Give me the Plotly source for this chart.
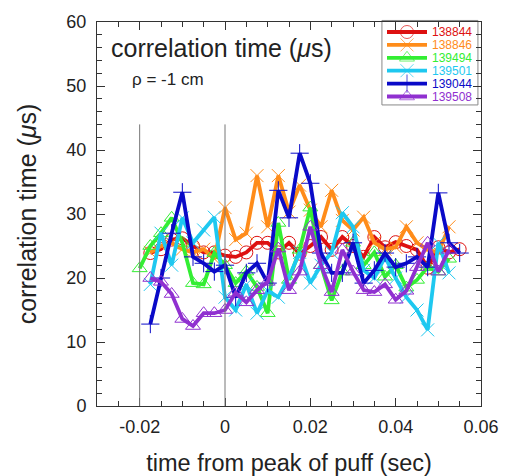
import plotly.graph_objects as go

# shared time grid (sec)
t = [-0.0200, -0.0175, -0.0150, -0.0125, -0.0100, -0.0075, -0.0050, -0.0025,
     0.0000, 0.0025, 0.0050, 0.0075, 0.0100, 0.0125, 0.0150, 0.0175,
     0.0200, 0.0225, 0.0250, 0.0275, 0.0300, 0.0325, 0.0350, 0.0375,
     0.0400, 0.0425, 0.0450, 0.0475, 0.0500, 0.0525, 0.0550]

# correlation time (us) per shot
s138844 = [23.9, 24.5, 26.0, 26.2, 25.0, 24.0, 24.0, 23.5, 23.3, 24.0, 25.5, 25.5, 24.0, 25.5,
           23.8, 25.0, 26.4, 24.4, 26.4, 25.0, 23.3, 26.4, 24.8, 25.6, 25.0, 24.4, 21.6, 24.8,
           24.0, 24.5]
s138846 = [24.0, 25.0, 25.5, 24.5, 24.0, 24.5, 23.0, 31.0, 26.0, 27.0, 36.0, 28.0, 36.0, 30.3,
           34.5, 30.6, 28.0, 33.7, 29.0, 27.5, 29.5, 25.5, 24.5, 24.8, 28.0, 25.5, 24.4, 24.0,
           28.0]
s139494 = [21.5, 25.0, 27.0, 29.4, 25.5, 19.2, 19.0, 23.9, 22.0, 19.2, 21.0, 18.6, 14.5, 28.6,
           19.7, 24.4, 31.0, 22.0, 16.5, 21.0, 25.5, 22.0, 24.0, 20.2, 22.0, 18.5, 19.7, 21.7,
           21.0, 23.0]
s139501 = [19.0, 27.0, 22.0, 29.4, 25.5, 27.5, 29.5, 17.0, 15.0, 19.0, 14.5, 18.0, 17.0, 20.2,
           24.0, 19.2, 22.0, 24.0, 30.2, 28.0, 21.2, 20.0, 23.3, 20.0, 17.0, 15.0, 11.9, 25.5,
           20.8]
s139044 = [12.8, 20.0, 27.0, 33.4, 23.3, 22.3, 21.0, 22.0, 17.0, 20.8, 22.3, 19.2, 33.7, 29.4,
           39.5, 34.8, 23.9, 20.8, 20.8, 25.5, 19.2, 21.2, 23.9, 21.7, 22.3, 23.3, 21.7, 33.3,
           25.5, 23.9]
s139508 = [20.0, 19.4, 17.5, 13.6, 12.5, 14.5, 14.5, 15.0, 17.7, 16.2, 18.1, 19.4, 24.6, 18.1,
           21.0, 28.0, 22.0, 17.8, 24.4, 21.0, 18.1, 17.8, 19.0, 16.6, 18.0, 21.7, 25.5, 21.0,
           24.4]

shots = ["138844", "138846", "139494", "139501", "139044", "139508"]
series = [s138844, s138846, s139494, s139501, s139044, s139508]
start_idx = [1, 1, 0, 1, 1, 1]
colors = ["#dd1111", "#ff8c1a", "#33ee33", "#1ec8f0", "#0a0ac8", "#9030d0"]
symbols = ["circle-open", "x-thin-open", "triangle-up-open", "x-thin-open",
           "cross-thin-open", "triangle-up-open"]

vlines = [-0.02, 0.0]
vline_top = 44

FONT = "Liberation Sans, Arial, Helvetica, sans-serif"
TXT = "#222222"

fig = go.Figure()
for name, ys, s0, c, sym in zip(shots, series, start_idx, colors, symbols):
    fig.add_trace(go.Scatter(
        x=t[s0:s0 + len(ys)], y=ys, mode="lines+markers", showlegend=False,
        line=dict(color=c, width=3.8),
        marker=dict(symbol=sym, size=13, color=c, line=dict(color=c, width=1)),
    ))

for xv in vlines:
    fig.add_shape(type="line", xref="x", yref="y", x0=xv, x1=xv, y0=0, y1=vline_top,
                  line=dict(color="#777777", width=1))

# ---- manual compact legend (overlay axis in plot-area pixel units) ----
fig.add_shape(type="rect", xref="paper", yref="paper", x0=0.742, x1=0.992, y0=0.784, y1=1.004,
              line=dict(color="#888888", width=1), fillcolor="white", layer="below")
row_top, row_step = 374, 12.9      # in overlay units (0..384 from bottom of plot area)
seg_x0, seg_x1, mark_x, text_x = 290, 330, 310, 333
for i, (name, c, sym) in enumerate(zip(shots, colors, symbols)):
    yy = row_top - i * row_step
    fig.add_trace(go.Scatter(
        x=[seg_x0, mark_x, seg_x1], y=[yy, yy, yy], xaxis="x2", yaxis="y2",
        mode="lines+markers", showlegend=False, hoverinfo="skip",
        line=dict(color=c, width=3.8),
        marker=dict(symbol=sym, size=[0, 13, 0], color=c, line=dict(color=c, width=1)),
    ))
    fig.add_annotation(text=name, xref="x2", yref="y2", x=text_x, y=yy,
                       xanchor="left", yanchor="middle", showarrow=False,
                       font=dict(size=12, color=c, family=FONT))

fig.add_annotation(text="correlation time (<i>μ</i>s)", xref="paper", yref="paper",
                   x=0.032, y=0.932, xanchor="left", yanchor="middle", showarrow=False,
                   font=dict(size=25, color=TXT))
fig.add_annotation(text="ρ = -1 cm", xref="paper", yref="paper",
                   x=0.085, y=0.849, xanchor="left", yanchor="middle", showarrow=False,
                   font=dict(size=17, color=TXT))

axis_common = dict(showline=True, linecolor="#333333", linewidth=1, mirror="ticks",
                   ticks="inside", tickcolor="#333333", showgrid=False, zeroline=False,
                   automargin=False, tickfont=dict(size=18, color=TXT))
fig.update_xaxes(range=[-0.03, 0.06], tickvals=[-0.02, 0, 0.02, 0.04, 0.06],
                 ticktext=["-0.02", "0", "0.02", "0.04", "0.06"], ticklen=8,
                 ticklabelstandoff=4,
                 minor=dict(dtick=0.005, ticklen=5, ticks="inside", tickcolor="#333333"),
                 title=dict(text="time from peak of puff (sec)", font=dict(size=23.5, color=TXT),
                            standoff=19),
                 **axis_common)
fig.update_yaxes(range=[0, 60], dtick=10, ticklen=8, ticklabelstandoff=6,
                 minor=dict(dtick=2, ticklen=5, ticks="inside", tickcolor="#333333"),
                 title=dict(text="correlation time (<i>μ</i>s)", font=dict(size=25, color=TXT),
                            standoff=22),
                 **axis_common)

fig.update_layout(
    width=502, height=468,
    margin=dict(l=89, r=29, t=14, b=70),
    paper_bgcolor="white", plot_bgcolor="white",
    font=dict(family=FONT),
    showlegend=False,
    xaxis2=dict(domain=[0, 1], range=[0, 384], overlaying="x", visible=False, fixedrange=True),
    yaxis2=dict(domain=[0, 1], range=[0, 384], overlaying="y", visible=False, fixedrange=True),
)

fig.write_html("out.html")
